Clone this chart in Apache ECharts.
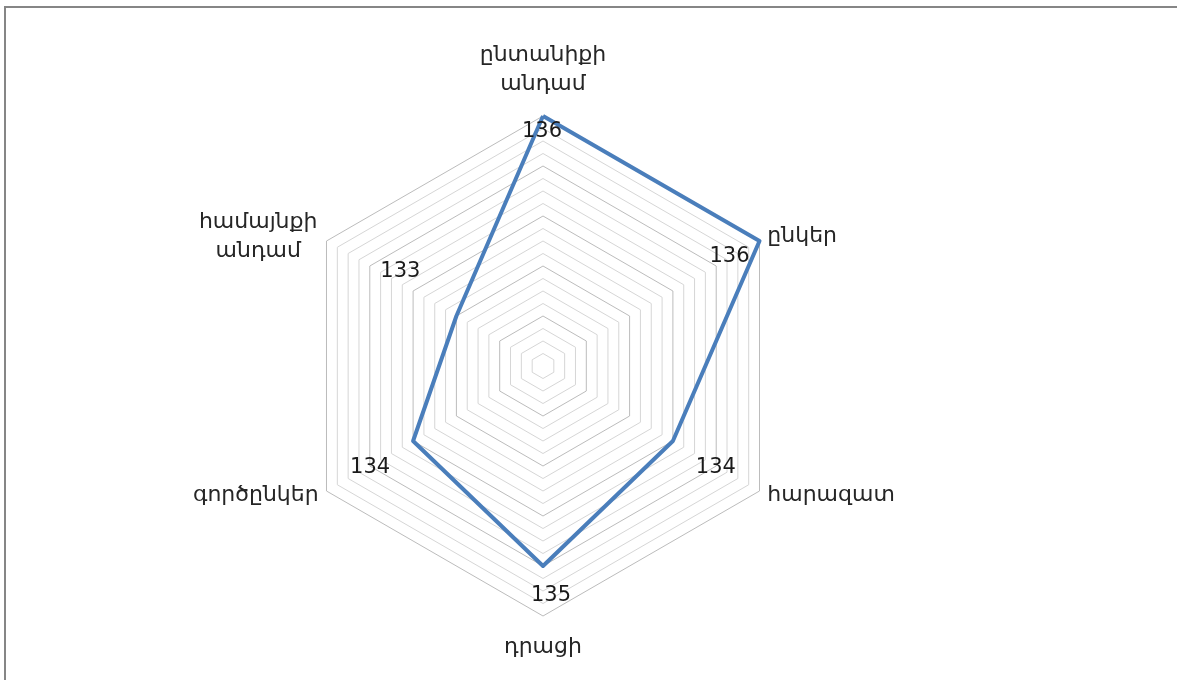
<!DOCTYPE html>
<html><head><meta charset="utf-8">
<script src="https://cdn.jsdelivr.net/npm/echarts@6/dist/echarts.min.js"></script>
<style>html,body{margin:0;padding:0;background:#fff}#c{width:1177px;height:680px}</style>
</head><body><div id="c"></div>
<script>
// Data (Excel clockwise order, starting at top)
const categories = ['ընտանիքի\nանդամ', 'ընկեր', 'հարազատ', 'դրացի', 'գործընկեր', 'համայնքի\nանդամ'];
const values = [136, 136, 134, 135, 134, 133];
const axisMin = 131;
const axisMax = 136;
const ringCount = 20;

// Styling (label offsets relative to each point, px), same order as categories
const labelOffsets = [[-1, 16], [-30, 16], [43, 27], [8, 30], [-43, 27], [-56, -44]];
// ECharts radar runs counter-clockwise; map to Excel's clockwise order
const order = [0, 5, 4, 3, 2, 1];

const FONT = 'DejaVu Sans';
const NAME_SIZE = 22;
const indicators = order.map(i => ({ name: categories[i], min: axisMin, max: axisMax }));
const seriesValues = order.map(i => values[i]);

const labelItems = order.map((srcIdx, pos) => {
  const v = order.map((_, p) => (p === pos ? values[srcIdx] : '-'));
  return {
    value: v,
    symbol: 'circle',
    symbolSize: 0,
    lineStyle: { opacity: 0, width: 0 },
    itemStyle: { color: 'rgba(0,0,0,0)', borderWidth: 0 },
    label: {
      show: true,
      position: 'inside',
      offset: labelOffsets[srcIdx],
      color: '#1a1a1a',
      fontFamily: FONT,
      fontSize: 21
    }
  };
});

const ringColors = ['#bcbcbc', '#d6d6d6', '#d6d6d6', '#d6d6d6'];
const nameStyle = { fontFamily: FONT, fontSize: NAME_SIZE, lineHeight: 29, color: '#262626' };

const chart = echarts.init(document.getElementById('c'), null, { renderer: 'canvas' });
chart.setOption({
  animation: false,
  backgroundColor: '#fff',
  graphic: [{
    type: 'rect', silent: true,
    shape: { x: 5, y: 7, width: 1300, height: 800 },
    style: { fill: 'none', stroke: '#868686', lineWidth: 2 }
  }],
  radar: {
    center: [543, 366],
    radius: 250,
    startAngle: 90,
    shape: 'polygon',
    splitNumber: ringCount,
    nameGap: 9,
    indicator: indicators,
    axisName: Object.assign({}, nameStyle, {
      formatter: function (name) {
        const idx = categories.indexOf(name);
        if (idx === 0) {
          return name.split('\n').map(s => '{top|' + s + '}').join('\n');
        }
        if (name.indexOf('\n') >= 0) {
          return name.split('\n').map(s => '{w|' + s + '}').join('\n');
        }
        if (idx === 3) return '{bot|' + name + '}';
        return name;
      },
      rich: {
        w: Object.assign({ width: 121, align: 'center' }, nameStyle),
        top: Object.assign({ width: 132, align: 'center', padding: [0, 0, 16, 0] }, nameStyle),
        bot: Object.assign({ padding: [16, 0, 0, 0] }, nameStyle)
      }
    }),
    axisLine: { show: false },
    axisTick: { show: false },
    axisLabel: { show: false },
    splitArea: { show: false },
    splitLine: { show: true, lineStyle: { color: ringColors, width: 1 } }
  },
  series: [{
    type: 'radar',
    silent: true,
    emphasis: { disabled: true },
    data: [{
      value: seriesValues,
      symbol: 'none',
      lineStyle: { color: '#4a7ebb', width: 4 },
      label: { show: false }
    }].concat(labelItems)
  }]
});
</script>
</body></html>
